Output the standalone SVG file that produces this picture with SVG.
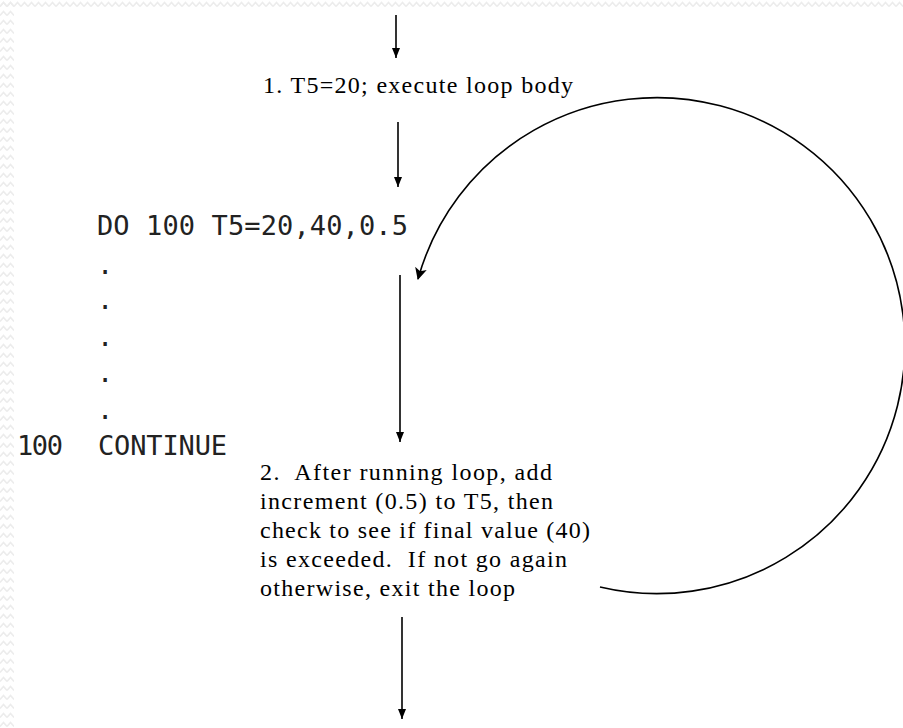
<svg xmlns="http://www.w3.org/2000/svg" width="903" height="728" viewBox="0 0 903 728">
  <defs>
    <pattern id="zig" x="0" y="0" width="7" height="9" patternUnits="userSpaceOnUse">
      <polyline points="0,6.5 3.5,2.5 7,6.5" fill="none" stroke="#ececec" stroke-width="1.6"/>
    </pattern>
    <marker id="head" viewBox="0 0 10 8" refX="10" refY="4" markerWidth="10" markerHeight="8" markerUnits="userSpaceOnUse" orient="auto">
      <path d="M0,0 L10,4 L0,8 Z" fill="#000"/>
    </marker>
    <marker id="chead" viewBox="0 0 12 12" refX="11" refY="6" markerWidth="12" markerHeight="12" markerUnits="userSpaceOnUse" orient="auto">
      <path d="M0,0 L12,6 L0,12 L3,6 Z" fill="#000"/>
    </marker>
    <style>
      .serif { font-family: "Liberation Serif", "Times New Roman", serif; font-size: 24px; fill: #000; white-space: pre; }
      .mono { font-family: "DejaVu Sans Mono", "Liberation Mono", monospace; font-size: 27px; fill: #222; }
      .conn { stroke: #000; stroke-width: 1.6; fill: none; }
    </style>
  </defs>

  <rect x="0" y="0" width="903" height="728" fill="#ffffff"/>
  <rect x="0" y="0" width="903" height="9" fill="url(#zig)"/>
  <rect x="0" y="0" width="14" height="728" fill="url(#zig)"/>

  <g id="step1">
    <text class="serif" x="263" y="93" textLength="310">1. T5=20; execute loop body</text>
  </g>

  <g id="code">
    <text class="mono" x="97" y="235" textLength="311">DO 100 T5=20,40,0.5</text>
    <text class="mono" x="97" y="274">.</text>
    <text class="mono" x="97" y="309">.</text>
    <text class="mono" x="97" y="346">.</text>
    <text class="mono" x="97" y="382">.</text>
    <text class="mono" x="97" y="419">.</text>
    <text class="mono" x="17" y="455" textLength="46">100</text>
    <text class="mono" x="98" y="455" textLength="129">CONTINUE</text>
  </g>

  <g id="step2">
    <text class="serif" x="260" y="480" textLength="292">2.  After running loop, add</text>
    <text class="serif" x="260" y="509" textLength="293">increment (0.5) to T5, then</text>
    <text class="serif" x="260" y="538" textLength="330">check to see if final value (40)</text>
    <text class="serif" x="260" y="567" textLength="307">is exceeded.  If not go again</text>
    <text class="serif" x="260" y="596" textLength="255">otherwise, exit the loop</text>
  </g>

  <g id="connectors">
    <line class="conn" x1="396" y1="15" x2="396" y2="58" marker-end="url(#head)"/>
    <line class="conn" x1="398" y1="122" x2="398" y2="187" marker-end="url(#head)"/>
    <line class="conn" x1="400" y1="275" x2="400" y2="442" marker-end="url(#head)"/>
    <line class="conn" x1="402" y1="617" x2="402" y2="719" marker-end="url(#head)"/>
    <path class="conn" d="M 600 587 A 248 248 0 1 0 418 279" marker-end="url(#chead)"/>
  </g>
</svg>
